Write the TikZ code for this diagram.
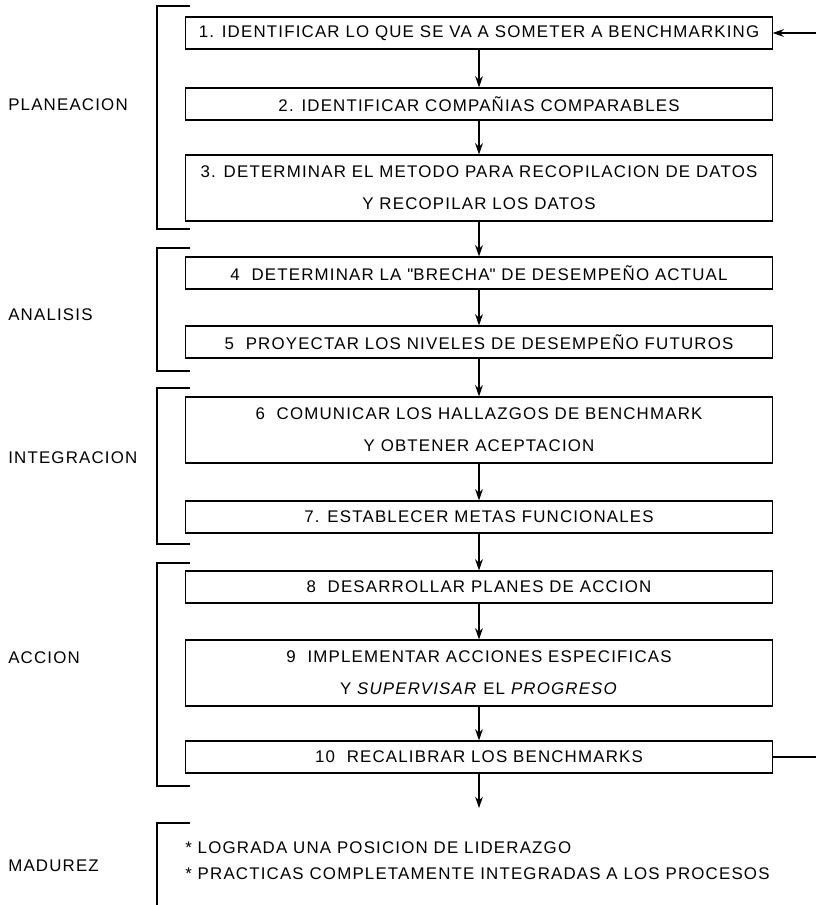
\documentclass[tikz,border=0pt]{standalone}
\usepackage{fontspec}
\setmainfont{Liberation Sans}[LetterSpace=7]
\usetikzlibrary{arrows.meta}

\begin{document}
\begin{tikzpicture}[x=0.025cm, y=-0.025cm,
    every node/.style={font=\fontsize{12}{22.8}\selectfont},
    stepbox/.style={draw, line width=0.8pt, minimum width=14.65cm, minimum height=0.8cm, align=center, inner sep=0pt},
    tallbox/.style={stepbox, minimum height=1.65cm},
    phase/.style={anchor=west, inner sep=0pt},
    bracket/.style={line width=0.8pt},
    >={Stealth[length=8pt, width=5.5pt]},
  ]
    \useasboundingbox (0,0) rectangle (816,905);

    % the ten steps
    \node[stepbox] (s1) at (479,33) {1. IDENTIFICAR LO QUE SE VA A SOMETER A BENCHMARKING};
    \node[stepbox] (s2) at (479,104) {2. IDENTIFICAR COMPAÑIAS COMPARABLES};
    \node[tallbox] (s3) at (479,188) {3. DETERMINAR EL METODO PARA RECOPILACION DE DATOS\\Y RECOPILAR LOS DATOS};
    \node[stepbox] (s4) at (479,273) {4\ \ DETERMINAR LA \textquotedbl BRECHA\textquotedbl{} DE DESEMPEÑO ACTUAL};
    \node[stepbox] (s5) at (479,342) {5\ \ PROYECTAR LOS NIVELES DE DESEMPEÑO FUTUROS};
    \node[tallbox] (s6) at (479,430) {6\ \ COMUNICAR LOS HALLAZGOS DE BENCHMARK\\Y OBTENER ACEPTACION};
    \node[stepbox] (s7) at (479,517) {7. ESTABLECER METAS FUNCIONALES};
    \node[stepbox] (s8) at (479,587) {8\ \ DESARROLLAR PLANES DE ACCION};
    \node[tallbox] (s9) at (479,673) {9\ \ IMPLEMENTAR ACCIONES ESPECIFICAS\\Y \textit{SUPERVISAR} EL \textit{PROGRESO}};
    \node[stepbox] (s10) at (479,757) {10\ \ RECALIBRAR LOS BENCHMARKS};

    \foreach \source/\target in {s1/s2,s2/s3,s3/s4,s4/s5,s5/s6,s6/s7,s7/s8,s8/s9,s9/s10}
      \draw[->, line width=0.8pt] (\source) edge (\target);

    \coordinate (end) at (479,808);
    \draw[->, line width=0.8pt] (s10) edge (end);

    % return line
    \coordinate (back-out) at (816,757);
    \coordinate (back-in) at (816,33);
    \draw[line width=0.8pt] (s10) -- (back-out);
    \draw[->, line width=0.8pt] (back-in) -- (s1);

    % phases
    \foreach \top/\bottom in {6/229, 248/371, 388/544, 563/786}
      \draw[bracket] (190,\top) -- (157,\top) -- (157,\bottom) -- (190,\bottom);
    \draw[bracket] (190,823) -- (157,823) -- (157,905);

    \node[phase] (planeacion) at (8,105) {PLANEACION};
    \node[phase] (analisis) at (8,315) {ANALISIS};
    \node[phase] (integracion) at (8,458) {INTEGRACION};
    \node[phase] (accion) at (8,658) {ACCION};
    \node[phase] (madurez) at (8,866) {MADUREZ};

    \node[phase] (logro) at (185,848) {* LOGRADA UNA POSICION DE LIDERAZGO};
    \node[phase] (practicas) at (185,874) {* PRACTICAS COMPLETAMENTE INTEGRADAS A LOS PROCESOS};
\end{tikzpicture}
\end{document}
